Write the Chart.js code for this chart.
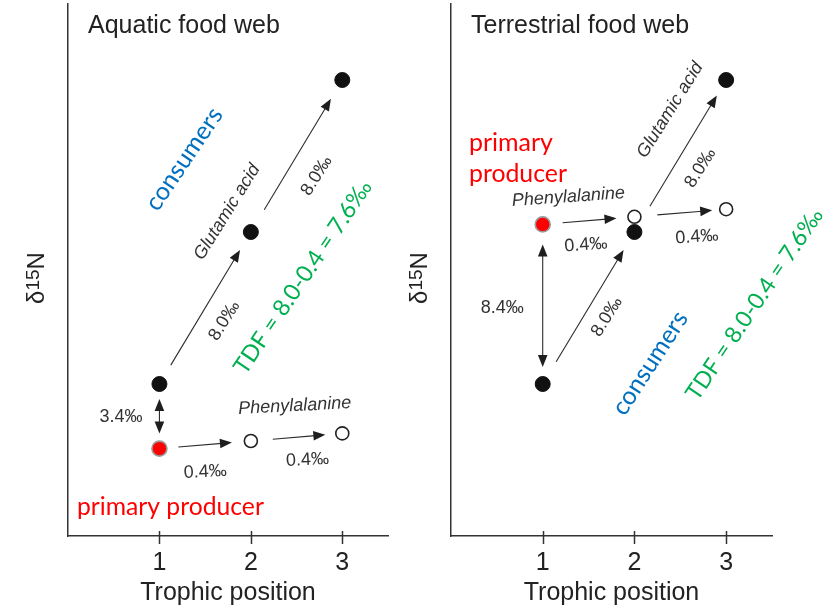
<!DOCTYPE html>
<html>
<head>
<meta charset="utf-8">
<script src="https://cdn.jsdelivr.net/npm/chart.js@4/dist/chart.umd.min.js"></script>
<style>
  html, body { margin: 0; padding: 0; background: #fff; }
  #wrap { position: relative; width: 826px; height: 608px; overflow: hidden; }
  #wrap canvas { position: absolute; top: 0; }
</style>
</head>
<body>
<div id="wrap">
  <canvas id="aquatic" width="400" height="608" style="left:0"></canvas>
  <canvas id="terrestrial" width="426" height="608" style="left:400px"></canvas>
</div>
<script>
// Trophic positions on the x axis and their tick labels
const trophicPositions = [1, 2, 3];
const tickLabels = ['1', '2', '3'];

// δ15N of each amino acid (‰), relative to glutamic acid at trophic position 1
const aquaticGlu = [0, 8.0, 16.0];
const aquaticPhe = [-3.4, -3.0, -2.6];
const terrestrialGlu = [0, 8.0, 16.0];
const terrestrialPhe = [8.4, 8.8, 9.2];

const panelTitles = ['Aquatic food web', 'Terrestrial food web'];
const xTitle = 'Trophic position';

const ARIAL = '"Liberation Sans", Arial, Helvetica, sans-serif';
const HUMANIST = 'Lato, "Open Sans", sans-serif';
const INK = '#333';
const RED = '#FF0000', BLUE = '#0070C0', GREEN = '#00B050';

// Arrows join two points of a series; gaps keep them clear of the markers (px)
// Labels are anchored in axis units (trophic position, ‰)
const notes = {
  aquatic: {
    title: panelTitles[0],
    arrows: [
      { from: ['glu', 0], to: ['glu', 1], gap: [22, 21], heads: 'end' },
      { from: ['glu', 1], to: ['glu', 2], gap: [26, 22], heads: 'end' },
      { from: ['glu', 0], to: ['phe', 0], gap: [15, 15], heads: 'both' },
      { from: ['phe', 0], to: ['phe', 1], gap: [19, 19], heads: 'end' },
      { from: ['phe', 1], to: ['phe', 2], gap: [22, 17], heads: 'end' }
    ],
    labels: [
      { t: 'consumers', x: 1.27, y: 11.84, rot: -56, fit: 118, color: BLUE },
      { t: 'Glutamic acid', x: 1.74, y: 9.05, rot: -58, size: 18, italic: true },
      { t: '8.0‰', x: 2.72, y: 10.95, rot: -58, size: 18 },
      { t: '8.0‰', x: 1.71, y: 3.32, rot: -58, size: 18 },
      { t: 'TDF = 8.0-0.4 = 7.6‰', x: 2.57, y: 5.63, rot: -56, fit: 228, color: GREEN },
      { t: '3.4‰', x: 0.58, y: -1.74, rot: 0, size: 18 },
      { t: 'Phenylalanine', x: 2.48, y: -1.16, rot: -3, size: 18, italic: true },
      { t: '0.4‰', x: 1.50, y: -4.63, rot: -3, size: 18 },
      { t: '0.4‰', x: 2.62, y: -4.0, rot: -3, size: 18 },
      { t: 'primary producer', x: 1.12, y: -6.47, rot: 0, fit: 187, color: RED }
    ]
  },
  terrestrial: {
    title: panelTitles[1],
    arrows: [
      { from: ['phe', 0], to: ['phe', 1], gap: [20, 18], heads: 'end' },
      { from: ['phe', 1], to: ['phe', 2], gap: [23, 14], heads: 'end' },
      { from: ['phe', 0], to: ['glu', 0], gap: [20, 17], heads: 'both' },
      { from: ['glu', 0], to: ['glu', 1], gap: [26, 21], heads: 'end' },
      { from: ['glu', 1], to: ['glu', 2], gap: [30, 18], heads: 'end' }
    ],
    labels: [
      { t: 'primary', x: 0.196, y: 12.68, rot: 0, fit: 84, color: RED, align: 'left' },
      { t: 'producer', x: 0.196, y: 11.05, rot: 0, fit: 98, color: RED, align: 'left' },
      { t: 'Phenylalanine', x: 1.28, y: 9.84, rot: -4, size: 18, italic: true },
      { t: '0.4‰', x: 1.47, y: 7.32, rot: -4, size: 18 },
      { t: '0.4‰', x: 2.68, y: 7.74, rot: -4, size: 18 },
      { t: 'Glutamic acid', x: 2.39, y: 14.42, rot: -58, size: 18, italic: true },
      { t: '8.0‰', x: 2.72, y: 11.37, rot: -58, size: 18 },
      { t: '8.4‰', x: 0.56, y: 4.0, rot: 0, size: 18 },
      { t: '8.0‰', x: 1.70, y: 3.53, rot: -58, size: 18 },
      { t: 'consumers', x: 2.17, y: 1.1, rot: -57, fit: 118, color: BLUE },
      { t: 'TDF = 8.0-0.4 = 7.6‰', x: 3.31, y: 4.2, rot: -56, fit: 226, color: GREEN }
    ]
  }
};

function drawArrowHead(ctx, tipX, tipY, ux, uy) {
  const len = 12, half = 4.8;
  ctx.beginPath();
  ctx.moveTo(tipX, tipY);
  ctx.lineTo(tipX - ux * len - uy * half, tipY - uy * len + ux * half);
  ctx.lineTo(tipX - ux * len + uy * half, tipY - uy * len - ux * half);
  ctx.closePath();
  ctx.fill();
}

function drawIsotopeTitle(ctx, cx, cy) {
  ctx.save();
  ctx.translate(cx, cy);
  ctx.rotate(-Math.PI / 2);
  ctx.fillStyle = '#222';
  ctx.textAlign = 'left';
  ctx.textBaseline = 'alphabetic';
  const big = `24px ${ARIAL}`, small = `19px ${ARIAL}`;
  ctx.font = big;
  const wd = ctx.measureText('δ').width, wn = ctx.measureText('N').width;
  ctx.font = small;
  const ws = ctx.measureText('15').width;
  let xx = -(wd + ws + wn) / 2;
  const base = 8.5;
  ctx.font = big; ctx.fillText('δ', xx, base); xx += wd;
  ctx.font = small; ctx.fillText('15', xx, base - 5); xx += ws;
  ctx.font = big; ctx.fillText('N', xx, base);
  ctx.restore();
}

const foodWebNotes = {
  id: 'foodWebNotes',
  afterDatasetsDraw(chart) {
    const cfg = notes[chart.canvas.id];
    const { ctx, chartArea } = chart;
    const xs = chart.scales.x, ys = chart.scales.y;
    const series = {
      glu: chart.data.datasets[0].data,
      phe: chart.data.datasets[1].data
    };
    const pt = ref => {
      const d = series[ref[0]][ref[1]];
      return [xs.getPixelForValue(d.x), ys.getPixelForValue(d.y)];
    };

    ctx.save();
    // tick marks crossing the x axis
    ctx.strokeStyle = INK;
    ctx.lineWidth = 1.5;
    trophicPositions.forEach(v => {
      const p = Math.round(xs.getPixelForValue(v)) + 0.5;
      ctx.beginPath();
      ctx.moveTo(p, chartArea.bottom - 5);
      ctx.lineTo(p, chartArea.bottom + 8);
      ctx.stroke();
    });

    // arrows
    ctx.strokeStyle = '#2b2b2b';
    ctx.fillStyle = '#1e1e1e';
    ctx.lineWidth = 1.1;
    cfg.arrows.forEach(a => {
      const [x1, y1] = pt(a.from), [x2, y2] = pt(a.to);
      const L = Math.hypot(x2 - x1, y2 - y1);
      const ux = (x2 - x1) / L, uy = (y2 - y1) / L;
      const sx = x1 + ux * a.gap[0], sy = y1 + uy * a.gap[0];
      const ex = x2 - ux * a.gap[1], ey = y2 - uy * a.gap[1];
      const trimS = a.heads === 'both' ? 10 : 0;
      ctx.beginPath();
      ctx.moveTo(sx + ux * trimS, sy + uy * trimS);
      ctx.lineTo(ex - ux * 10, ey - uy * 10);
      ctx.stroke();
      drawArrowHead(ctx, ex, ey, ux, uy);
      if (a.heads === 'both') drawArrowHead(ctx, sx, sy, -ux, -uy);
    });

    // labels
    cfg.labels.forEach(l => {
      let font;
      if (l.fit) {
        ctx.font = `100px ${HUMANIST}`;
        const size = 100 * l.fit / ctx.measureText(l.t).width;
        font = `${size.toFixed(2)}px ${HUMANIST}`;
      } else {
        font = `${l.italic ? 'italic ' : ''}${l.size}px ${ARIAL}`;
      }
      ctx.save();
      ctx.translate(xs.getPixelForValue(l.x), ys.getPixelForValue(l.y));
      ctx.rotate(l.rot * Math.PI / 180);
      ctx.font = font;
      ctx.fillStyle = l.color || INK;
      ctx.textAlign = l.align || 'center';
      ctx.textBaseline = 'middle';
      ctx.fillText(l.t, 0, 0);
      ctx.restore();
    });

    // panel title and y-axis title
    ctx.font = `25px ${ARIAL}`;
    ctx.fillStyle = '#222';
    ctx.textAlign = 'left';
    ctx.textBaseline = 'middle';
    ctx.fillText(cfg.title, chartArea.left + 20, chartArea.top + 22);
    drawIsotopeTitle(ctx, chartArea.left - 33, chartArea.top + 274);
    ctx.restore();
  }
};

function makePanel(id, glu, phe, padLeft, padRight) {
  const pts = vals => trophicPositions.map((x, i) => ({ x, y: vals[i] }));
  return new Chart(document.getElementById(id), {
    type: 'scatter',
    data: {
      datasets: [
        {
          label: 'Glutamic acid',
          data: pts(glu),
          order: 2,
          pointRadius: 7.5,
          pointBackgroundColor: '#111',
          pointBorderColor: '#111',
          pointBorderWidth: 1
        },
        {
          label: 'Phenylalanine',
          data: pts(phe),
          order: 1,
          pointRadius: [7.5, 6.5, 6.5],
          pointBackgroundColor: [RED, '#fff', '#fff'],
          pointBorderColor: ['#9a9a9a', '#222', '#222'],
          pointBorderWidth: 1.6
        }
      ]
    },
    options: {
      responsive: false,
      animation: false,
      events: [],
      layout: { autoPadding: false, padding: { left: padLeft, right: padRight, top: 4, bottom: 0 } },
      plugins: { legend: { display: false }, tooltip: { enabled: false }, title: { display: false } },
      scales: {
        x: {
          type: 'linear',
          min: 0,
          max: 3.5,
          afterBuildTicks: s => { s.ticks = trophicPositions.map(v => ({ value: v })); },
          afterFit: s => { s.height = 72; },
          ticks: {
            callback: v => tickLabels[trophicPositions.indexOf(v)],
            font: { family: ARIAL, size: 25 },
            color: '#222',
            padding: 12,
            maxRotation: 0,
            autoSkip: false
          },
          grid: { display: false, drawTicks: false },
          border: { display: true, color: INK, width: 1.5 },
          title: {
            display: true,
            text: xTitle,
            font: { family: ARIAL, size: 25 },
            color: '#222',
            padding: { top: 0, bottom: 0 }
          }
        },
        y: {
          type: 'linear',
          min: -8,
          max: 20,
          afterFit: s => { s.width = 0; },
          ticks: { display: false },
          grid: { display: false, drawTicks: false },
          border: { display: true, color: INK, width: 1.5 }
        }
      }
    },
    plugins: [foodWebNotes]
  });
}

makePanel('aquatic', aquaticGlu, aquaticPhe, 68, 12);
makePanel('terrestrial', terrestrialGlu, terrestrialPhe, 51, 54);
</script>
</body>
</html>
